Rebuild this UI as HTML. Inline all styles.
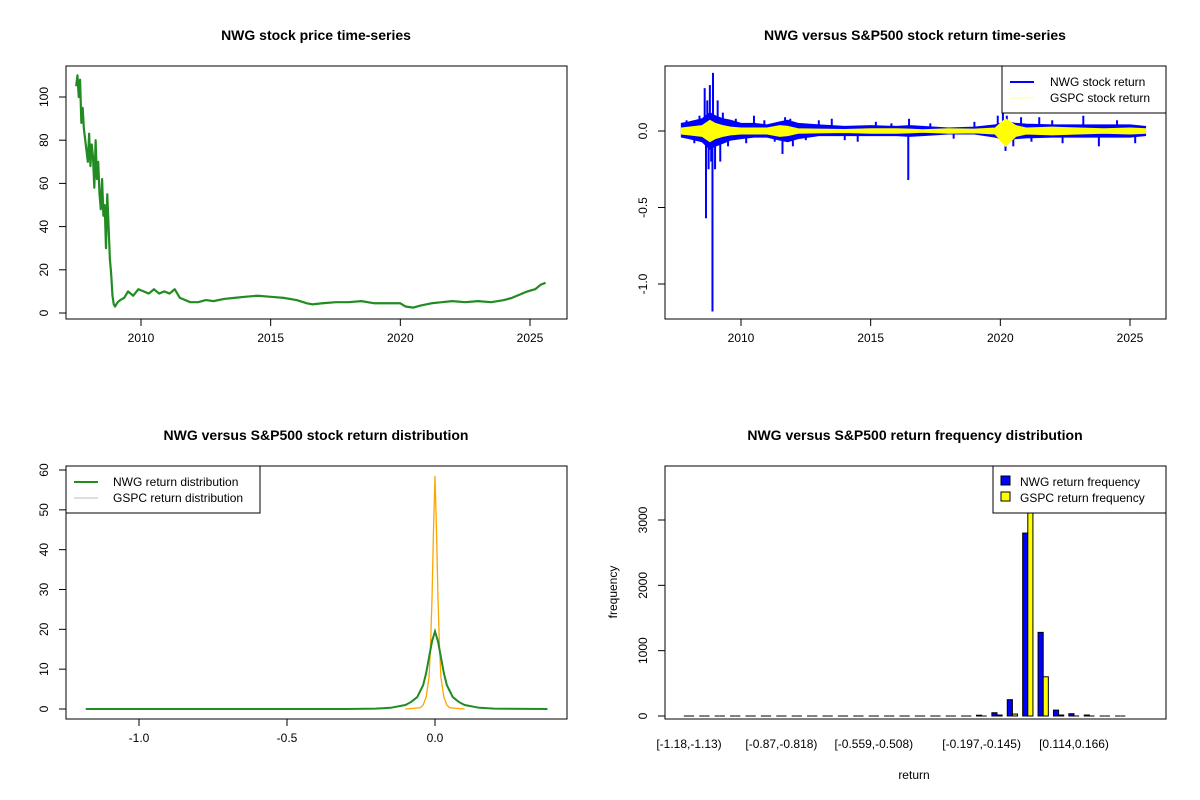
<!DOCTYPE html>
<html><head><meta charset="utf-8"><style>
html,body{margin:0;padding:0;background:#fff}
svg{display:block;font-family:"Liberation Sans",Arial,sans-serif}
</style></head><body>
<svg id="c" width="1200" height="800" viewBox="0 0 1200 800"></svg>
<script>
// ---------- DATA ----------
const priceDates=[2007.5,2007.55,2007.6,2007.65,2007.7,2007.75,2007.8,2007.85,2007.9,2007.95,2008.0,2008.05,2008.1,2008.15,2008.2,2008.25,2008.3,2008.35,2008.4,2008.45,2008.5,2008.55,2008.6,2008.65,2008.7,2008.75,2008.8,2008.85,2008.9,2008.95,2009.0,2009.1,2009.2,2009.35,2009.5,2009.7,2009.9,2010.1,2010.3,2010.5,2010.7,2010.9,2011.1,2011.3,2011.5,2011.7,2011.9,2012.2,2012.5,2012.8,2013.2,2013.6,2014.0,2014.5,2015.0,2015.5,2016.0,2016.4,2016.6,2017.0,2017.5,2018.0,2018.5,2019.0,2019.5,2020.0,2020.2,2020.5,2020.8,2021.2,2021.6,2022.0,2022.5,2023.0,2023.5,2024.0,2024.3,2024.6,2024.9,2025.2,2025.4,2025.6];
const priceValues=[105,110,100,108,88,95,85,80,75,70,83,68,78,72,58,80,62,70,55,48,62,45,50,30,55,40,25,18,8,4,3,5,6,7,10,8,11,10,9,11,9,10,9,11,7,6,5,5,6,5.5,6.5,7,7.5,8,7.5,7,6,4.5,4,4.5,5,5,5.5,4.5,4.5,4.5,3,2.5,3.5,4.5,5,5.5,5,5.5,5,6,7,8.5,10,11,13,14];

const bandDates=[2007.7,2008.0,2008.5,2008.8,2009.0,2009.3,2009.6,2010.0,2010.5,2011.0,2011.5,2011.8,2012.2,2013,2014,2015,2016,2016.5,2017,2018,2019,2019.8,2020.2,2020.6,2021,2022,2023,2024,2025,2025.6];
const nwgHi=[0.05,0.06,0.08,0.12,0.1,0.08,0.07,0.05,0.05,0.04,0.06,0.07,0.05,0.04,0.03,0.035,0.03,0.035,0.03,0.02,0.025,0.04,0.06,0.05,0.045,0.04,0.04,0.04,0.04,0.03];
const nwgLo=[-0.04,-0.05,-0.07,-0.12,-0.1,-0.08,-0.06,-0.05,-0.04,-0.04,-0.06,-0.07,-0.05,-0.03,-0.03,-0.03,-0.03,-0.035,-0.03,-0.02,-0.02,-0.04,-0.06,-0.05,-0.045,-0.04,-0.04,-0.04,-0.04,-0.03];
const gspcHi=[0.02,0.025,0.035,0.07,0.05,0.035,0.025,0.02,0.02,0.02,0.035,0.03,0.015,0.012,0.01,0.015,0.015,0.012,0.008,0.015,0.012,0.02,0.08,0.035,0.02,0.025,0.02,0.015,0.02,0.015];
const gspcLo=[-0.02,-0.025,-0.035,-0.07,-0.05,-0.035,-0.025,-0.02,-0.02,-0.02,-0.035,-0.03,-0.015,-0.012,-0.01,-0.015,-0.015,-0.012,-0.008,-0.015,-0.012,-0.02,-0.1,-0.035,-0.02,-0.025,-0.02,-0.015,-0.02,-0.015];
const spikeDates=[2007.9,2008.2,2008.4,2008.6,2008.65,2008.7,2008.75,2008.8,2008.85,2008.9,2008.92,2009.0,2009.1,2009.2,2009.3,2009.5,2009.8,2010.2,2010.5,2010.9,2011.3,2011.6,2011.7,2011.9,2012.0,2012.5,2013.0,2013.5,2014.0,2014.5,2015.2,2015.8,2016.45,2016.48,2017.3,2018.2,2019.0,2019.9,2020.1,2020.2,2020.25,2020.5,2020.8,2021.2,2021.5,2022.0,2022.4,2023.2,2023.8,2024.5,2025.2];
const spikeValues=[0.07,-0.08,0.1,0.28,-0.57,0.2,-0.25,0.3,-0.2,-1.18,0.38,-0.25,0.2,-0.2,0.12,-0.1,0.08,-0.08,0.1,0.07,-0.07,-0.15,0.09,0.08,-0.1,-0.06,0.07,0.08,-0.06,-0.07,0.06,0.05,-0.32,0.08,0.05,-0.05,0.06,0.1,0.12,-0.13,0.1,-0.1,0.09,-0.07,0.09,0.07,-0.08,0.1,-0.1,0.07,-0.08];

const densX=[-1.18,-0.3,-0.2,-0.15,-0.1,-0.08,-0.06,-0.04,-0.03,-0.02,-0.01,0,0.01,0.02,0.03,0.04,0.06,0.08,0.1,0.15,0.2,0.38];
const nwgDens=[0,0,0.1,0.3,1,1.8,3,6,9,13,17,19.5,17,13,9,6,3,1.8,1,0.3,0.1,0];
const gspcX=[-0.1,-0.05,-0.04,-0.03,-0.02,-0.015,-0.01,-0.005,0,0.005,0.01,0.015,0.02,0.03,0.04,0.05,0.1];
const gspcDens=[0,0.3,1,3,8,16,28,45,58.5,45,28,16,8,3,1,0.3,0];

const binLabels=["[-1.18,-1.13)","[-0.87,-0.818)","[-0.559,-0.508)","[-0.197,-0.145)","[0.114,0.166)"];
const binLabelIdx=[0,6,12,19,25];
const nwgFreq=[1,0,0,0,0,0,0,0,0,0,0,0,0,0,0,1,0,1,2,12,50,250,2800,1280,90,35,15,3,1];
const gspcFreq=[0,0,0,0,0,0,0,0,0,0,0,0,0,0,0,0,0,0,1,3,15,30,3600,600,15,5,2,0,0];

// ---------- HELPERS ----------
const svg=document.getElementById('c');
const NS='http://www.w3.org/2000/svg';
function el(t,a,p){const e=document.createElementNS(NS,t);for(const k in a)e.setAttribute(k,a[k]);(p||svg).appendChild(e);return e;}
function txt(s,x,y,o,p){const e=el('text',Object.assign({x:x,y:y,'font-size':12,'text-anchor':'middle',fill:'#000'},o||{}),p);e.textContent=s;return e;}
function lin(d,r){const[a,b]=d,[c,e]=r;return v=>c+(v-a)*(e-c)/(b-a);}
function g(name){const e=el('g',{});return e;}

function box(p,x0,y0,x1,y1){const r=el('rect',{x:x0,y:y0,width:x1-x0,height:y1-y0,fill:'none',stroke:'#000','stroke-width':1},p);}
function xTicks(p,ticks,sx,y1,labels){const a=g('x-axis');p.appendChild(a);
  const xs=ticks.map(sx);el('line',{x1:xs[0],x2:xs[xs.length-1],y1:y1,y2:y1,stroke:'#000'},a);
  ticks.forEach((t,i)=>{el('line',{x1:xs[i],x2:xs[i],y1:y1,y2:y1+7,stroke:'#000'},a);const l=txt(labels?labels[i]:String(t),xs[i],y1+23,{},a);});}
function yTicks(p,ticks,sy,x0,labels){const a=g('y-axis');p.appendChild(a);
  const ys=ticks.map(sy);el('line',{x1:x0,x2:x0,y1:ys[0],y2:ys[ys.length-1],stroke:'#000'},a);
  ticks.forEach((t,i)=>{el('line',{x1:x0-7,x2:x0,y1:ys[i],y2:ys[i],stroke:'#000'},a);const xx=x0-18;const l=txt(labels?labels[i]:String(t),xx,ys[i],{transform:`rotate(-90 ${xx} ${ys[i]})`},a);});}
function title(p,s,x,y){const t=txt(s,x,y,{'font-size':14,'font-weight':'bold'},p);}

// ---------- PANEL 1 ----------
{const p=g('price-panel');svg.appendChild(p);
 const sx=lin([2010,2025],[141,530]),sy=lin([0,100],[313,97]);
 title(p,'NWG stock price time-series',316,40);
 const pl=el('polyline',{points:priceDates.map((d,i)=>sx(d)+','+sy(priceValues[i])).join(' '),fill:'none',stroke:'#228B22','stroke-width':2.2,'stroke-linejoin':'round'},p);
 
 box(p,66,66,567,319);
 xTicks(p,[2010,2015,2020,2025],sx,319);
 yTicks(p,[0,20,40,60,80,100],sy,66);}

// ---------- PANEL 2 ----------
{const p=g('return-panel');svg.appendChild(p);
 const sx=lin([2010,2025],[741,1130]),sy=lin([0,-1],[131,284]);
 title(p,'NWG versus S&P500 stock return time-series',915,40);
 const band=(hi,lo,col,name)=>{const pts=bandDates.map((d,i)=>sx(d)+','+sy(hi[i])).concat(bandDates.map((d,i)=>sx(d)+','+sy(lo[i])).reverse());
   const e=el('polygon',{points:pts.join(' '),fill:col,stroke:col,'stroke-width':1},p);};
 band(nwgHi,nwgLo,'#0000FF','nwg-return-band');
 spikeDates.forEach((d,i)=>{const e=el('line',{x1:sx(d),x2:sx(d),y1:sy(0),y2:sy(spikeValues[i]),stroke:'#0000FF','stroke-width':2},p);});
 band(gspcHi,gspcLo,'#FFFF00','gspc-return-band');
 box(p,665,66,1166,319);
 xTicks(p,[2010,2015,2020,2025],sx,319);
 yTicks(p,[0,-0.5,-1],sy,665,['0.0','-0.5','-1.0']);
 const L=g('legend');p.appendChild(L);
 el('rect',{x:1002,y:66,width:164,height:47,fill:'#fff',stroke:'#000'},L);
 el('line',{x1:1010,x2:1034,y1:82,y2:82,stroke:'#0000FF','stroke-width':2},L);
 el('line',{x1:1010,x2:1034,y1:98,y2:98,stroke:'#FFFF99','stroke-width':1},L);
 txt('NWG stock return',1050,86,{'text-anchor':'start'},L);
 txt('GSPC stock return',1050,102,{'text-anchor':'start'},L);}

// ---------- PANEL 3 ----------
{const p=g('density-panel');svg.appendChild(p);
 const sx=lin([-1,0],[139,435]),sy=lin([0,60],[709,470]);
 title(p,'NWG versus S&P500 stock return distribution',316,440);
 const a=el('polyline',{points:gspcX.map((x,i)=>sx(x)+','+sy(gspcDens[i])).join(' '),fill:'none',stroke:'#FFA500','stroke-width':1.3},p);
 
 const b=el('polyline',{points:densX.map((x,i)=>sx(x)+','+sy(nwgDens[i])).join(' '),fill:'none',stroke:'#228B22','stroke-width':2},p);
 
 box(p,66,466,567,719);
 xTicks(p,[-1,-0.5,0],sx,719,['-1.0','-0.5','0.0']);
 yTicks(p,[0,10,20,30,40,50,60],sy,66);
 const L=g('legend');p.appendChild(L);
 el('rect',{x:66,y:466,width:194,height:47,fill:'#fff',stroke:'#000'},L);
 el('line',{x1:74,x2:98,y1:482,y2:482,stroke:'#228B22','stroke-width':2},L);
 el('line',{x1:74,x2:98,y1:498,y2:498,stroke:'#BEBEBE','stroke-width':1},L);
 txt('NWG return distribution',113,486,{'text-anchor':'start'},L);
 txt('GSPC return distribution',113,502,{'text-anchor':'start'},L);}

// ---------- PANEL 4 ----------
{const p=g('histogram-panel');svg.appendChild(p);
 const sy=lin([0,3000],[716,520]);const c0=689,step=15.4,bw=5.13;
 title(p,'NWG versus S&P500 return frequency distribution',915,440);
 const clip=el('clipPath',{id:'cp4'},p);el('rect',{x:665,y:466,width:501,height:253},clip);
 const bars=el('g',{'clip-path':'url(#cp4)'},p);
 const bar=(x,v,col,name)=>{const y=sy(v),h=Math.max(0,sy(0)-y);
   const e=h>0.5?el('rect',{x:x,y:y,width:bw,height:h,fill:col,stroke:'#000','stroke-width':1},bars):el('line',{x1:x,x2:x+bw,y1:sy(0),y2:sy(0),stroke:'#000','stroke-width':1},bars);
   };
 nwgFreq.forEach((v,i)=>bar(c0+i*step-bw,v,'#0000FF','nwg-frequency-bar'));
 gspcFreq.forEach((v,i)=>bar(c0+i*step,v,'#FFFF00','gspc-frequency-bar'));
 box(p,665,466,1166,719);
 yTicks(p,[0,1000,2000,3000],sy,665);
 binLabelIdx.forEach((k,i)=>{const l=txt(binLabels[i],c0+k*step,748,{},p);});
 const xt=txt('return',914,779,{},p);
 const yt=txt('frequency',617,592,{transform:'rotate(-90 617 592)'},p);
 const L=g('legend');p.appendChild(L);
 el('rect',{x:993,y:466,width:173,height:47,fill:'#fff',stroke:'#000'},L);
 el('rect',{x:1001,y:476,width:9,height:9,fill:'#0000FF',stroke:'#000'},L);
 el('rect',{x:1001,y:492,width:9,height:9,fill:'#FFFF00',stroke:'#000'},L);
 txt('NWG return frequency',1020,486,{'text-anchor':'start'},L);
 txt('GSPC return frequency',1020,502,{'text-anchor':'start'},L);}
</script>
</body></html>
